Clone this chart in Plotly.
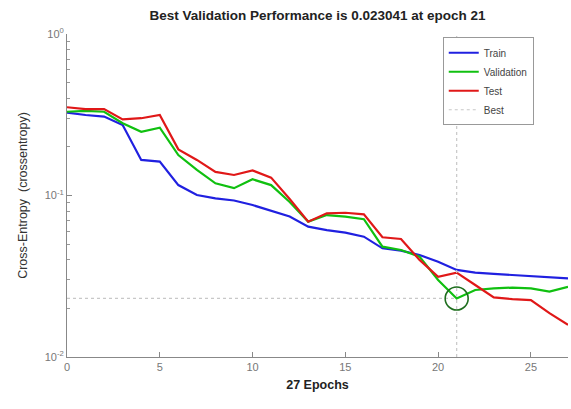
import plotly.graph_objects as go

epochs = list(range(28))
train = [0.326, 0.315, 0.308, 0.273, 0.166, 0.162, 0.116, 0.1007, 0.0961, 0.0931,
         0.0873, 0.0807, 0.0741, 0.0641, 0.0611, 0.0589, 0.0556, 0.0471, 0.0456, 0.0428,
         0.0389, 0.0346, 0.0333, 0.0327, 0.0322, 0.0314, 0.0310, 0.0307]
validation = [0.330, 0.334, 0.330, 0.280, 0.248, 0.263, 0.178, 0.144, 0.119, 0.111,
              0.126, 0.116, 0.0912, 0.0689, 0.0757, 0.0739, 0.0713, 0.0482, 0.0460, 0.0418,
              0.0300, 0.023041, 0.0260, 0.0266, 0.0269, 0.0266, 0.0254, 0.0272]
test = [0.352, 0.343, 0.343, 0.296, 0.301, 0.315, 0.193, 0.166, 0.140, 0.134,
        0.143, 0.129, 0.0951, 0.0689, 0.0776, 0.0782, 0.0765, 0.0551, 0.0538, 0.0399,
        0.0314, 0.0333, 0.0279, 0.0234, 0.0228, 0.0225, 0.0187, 0.0158]
best_epoch = 21
best_perf = 0.023041
y_limits = [0.01, 1.0]
x_ticks = [0, 5, 10, 15, 20, 25]
y_ticks = [0.01, 0.1, 1.0]
y_ticktext = ["10<sup>-2</sup>", "10<sup>-1</sup>", "10<sup>0</sup>"]
y_minor = [m * 10 ** e for e in (-2, -1) for m in range(2, 10)]

font_family = "Liberation Sans, Arial, sans-serif"

fig = go.Figure()
fig.add_trace(go.Scatter(x=epochs, y=train, mode="lines", name="Train",
                         line=dict(color="#2020e0", width=2.2)))
fig.add_trace(go.Scatter(x=epochs, y=validation, mode="lines", name="Validation",
                         line=dict(color="#10c010", width=2.2)))
fig.add_trace(go.Scatter(x=epochs, y=test, mode="lines", name="Test",
                         line=dict(color="#e01818", width=2.2)))
fig.add_trace(go.Scatter(
    x=[0, best_epoch, None, best_epoch, best_epoch],
    y=[best_perf, best_perf, None, y_limits[0], y_limits[1]],
    mode="lines", name="Best",
    line=dict(color="#c8c8c8", width=1.2, dash="dot")))
fig.add_trace(go.Scatter(x=[best_epoch], y=[best_perf], mode="markers",
                         showlegend=False,
                         marker=dict(symbol="circle-open", size=23,
                                     line=dict(color="#1e6e1e", width=1.6),
                                     color="#1e6e1e")))

fig.update_layout(
    width=571, height=409,
    margin=dict(l=67, r=3, t=34, b=52),
    paper_bgcolor="white", plot_bgcolor="white",
    font=dict(family=font_family, color="#555"),
    title=dict(text="<b>Best Validation Performance is 0.023041 at epoch 21</b>",
               x=(67 + 568) / 2 / 571, xanchor="center", y=1 - 15 / 409, yanchor="middle",
               font=dict(size=13.5, color="#222")),
    legend=dict(x=0.75, y=0.99, xanchor="left", yanchor="top",
                bgcolor="white", bordercolor="#999", borderwidth=1,
                font=dict(size=10, color="#444"), tracegroupgap=0,
                itemwidth=30),
    showlegend=True,
)
fig.update_xaxes(range=[0, 27], tickvals=x_ticks, ticks="inside", ticklen=5,
                 tickcolor="#888", showline=True, linecolor="#888", linewidth=1,
                 showgrid=False, zeroline=False,
                 tickfont=dict(size=11, color="#777"),
                 title=dict(text="<b>27 Epochs</b>", font=dict(size=12.5, color="#222"),
                            standoff=8))
fig.update_yaxes(type="log", range=[-2, 0], tickvals=y_ticks, ticktext=y_ticktext,
                 ticks="inside", ticklen=5, tickcolor="#888",
                 showline=True, linecolor="#888", linewidth=1,
                 showgrid=False, zeroline=False,
                 tickfont=dict(size=11, color="#777"),
                 minor=dict(tickvals=y_minor, ticks="inside", ticklen=3, tickcolor="#999",
                            showgrid=False),
                 title=dict(text="Cross-Entropy  (crossentropy)",
                            font=dict(size=12.5, color="#333"), standoff=14))

fig.write_html("out.html")
